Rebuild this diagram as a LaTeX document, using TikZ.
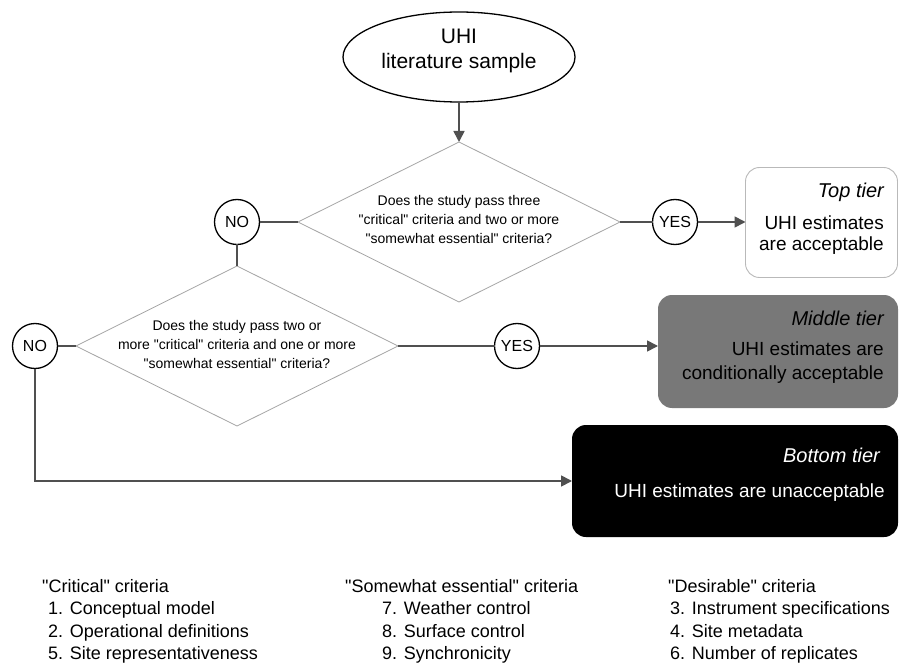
\documentclass[tikz,border=0pt]{standalone}
\usepackage{fontspec}
\setmainfont{Liberation Sans}[Ligatures=TeXOff]
\usetikzlibrary{shapes.geometric,arrows.meta}
\definecolor{linegray}{RGB}{80,80,80}
\definecolor{diagray}{RGB}{165,165,165}
\definecolor{boxgray}{RGB}{185,185,185}
\definecolor{midgray}{RGB}{120,120,120}
\begin{document}
\begin{tikzpicture}[x=1pt,y=-1pt,
  conn/.style={draw=linegray, line width=1.7pt},
  arr/.style={conn, -{Triangle[length=11pt,width=11pt]}},
  dec/.style={diamond, draw=diagray, line width=0.8pt, inner sep=0pt, outer sep=0pt, minimum width=322pt, minimum height=160pt},
  ans/.style={circle, draw=black, line width=1.3pt, inner sep=0pt, outer sep=0pt, minimum size=45pt, font=\fontsize{16}{16}\selectfont},
  qtext/.style={align=center, inner sep=0pt, font=\fontsize{14}{19}\selectfont},
  tier/.style={rounded corners=14pt, inner sep=0pt, outer sep=0pt},
  ttl/.style={anchor=mid east, inner sep=0pt, font=\fontsize{20}{20}\selectfont\itshape},
  tln/.style={anchor=mid east, inner sep=0pt, font=\fontsize{19}{19}\selectfont},
  leg/.style={anchor=mid west, inner sep=0pt, font=\fontsize{18}{18}\selectfont}
]
\useasboundingbox[fill=white] (0,0) rectangle (899,668);

% start
\node[ellipse, draw=black, line width=1.3pt, minimum width=232pt, minimum height=90pt, inner sep=0pt, outer sep=0pt] (start) at (459,57) {};
\node[align=center, inner sep=0pt, font=\fontsize{21}{25}\selectfont] (starttext) at (459,51) {UHI\\literature sample};

% decisions
\node[dec] (q1) at (459,222) {};
\node[qtext] (q1t) at (459,219) {Does the study pass three\\"critical" criteria and two or more\\"somewhat essential" criteria?};
\node[dec] (q2) at (237,346) {};
\node[qtext] (q2t) at (237,344) {Does the study pass two or\\more "critical" criteria and one or more\\"somewhat essential" criteria?};

% answers
\node[ans] (no1) at (237,222) {NO};
\node[ans] (yes1) at (675,222) {YES};
\node[ans] (no2) at (35,346) {NO};
\node[ans] (yes2) at (517,346) {YES};

% tiers
\node[tier, draw=boxgray, line width=0.9pt, minimum width=152pt, minimum height=110pt] (top) at (821.5,222.5) {};
\node[tier, fill=midgray, minimum width=240pt, minimum height=113pt] (mid) at (778,351.5) {};
\node[tier, fill=black, minimum width=326pt, minimum height=112pt] (bot) at (735,481) {};

\node[ttl] (toptitle) at (884,195) {Top tier};
\node[tln] (topl1) at (884,227) {UHI estimates};
\node[tln] (topl2) at (884,248) {are acceptable};
\node[ttl] (midtitle) at (884,323) {Middle tier};
\node[tln] (midl1) at (884,353) {UHI estimates are};
\node[tln] (midl2) at (884,377) {conditionally acceptable};
\node[ttl, text=white] (bottitle) at (880,460) {Bottom tier};
\node[tln, text=white] (botl1) at (885,495) {UHI estimates are unacceptable};

% connectors
\draw[arr] (start) -- (q1);
\draw[conn] (no1) -- (q1.west);
\draw[conn] (no1) -- (q2.north);
\draw[conn] (q1.east) -- (yes1);
\draw[arr] (yes1) -- (yes1 -| top.west);
\draw[conn] (no2) -- (q2.west);
\draw[conn] (q2.east) -- (yes2);
\draw[arr] (yes2) -- (yes2 -| mid.west);
\draw[arr] (no2) |- (bot.west);

% legend
\node[leg] (c0) at (42,590) {"Critical" criteria};
\node[leg] (c1) at (48,612) {1. Conceptual model};
\node[leg] (c2) at (48,635) {2. Operational definitions};
\node[leg] (c3) at (48,657) {5. Site representativeness};
\node[leg] (s0) at (345,590) {"Somewhat essential" criteria};
\node[leg] (s1) at (382,612) {7. Weather control};
\node[leg] (s2) at (382,635) {8. Surface control};
\node[leg] (s3) at (382,657) {9. Synchronicity};
\node[leg] (d0) at (668,590) {"Desirable" criteria};
\node[leg] (d1) at (670,612) {3. Instrument specifications};
\node[leg] (d2) at (670,635) {4. Site metadata};
\node[leg] (d3) at (670,657) {6. Number of replicates};
\end{tikzpicture}
\end{document}
